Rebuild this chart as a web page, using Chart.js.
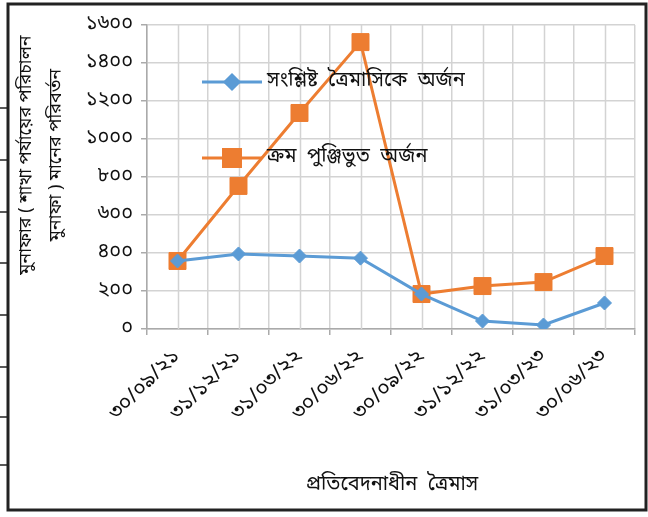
<!DOCTYPE html>
<html>
<head>
<meta charset="utf-8">
<script src="https://cdn.jsdelivr.net/npm/chart.js@4.4.0/dist/chart.umd.min.js"></script>
<style>
  html, body { margin: 0; padding: 0; background: #fff; }
  #wrap { position: relative; width: 648px; height: 517px; }
</style>
</head>
<body>
<div id="wrap"><canvas id="profit-chart" width="648" height="517"></canvas></div>
<script>
// data
var quarters = ['৩০/০৯/২১', '৩১/১২/২১', '৩১/০৩/২২', '৩০/০৬/২২', '৩০/০৯/২২', '৩১/১২/২২', '৩১/০৩/২৩', '৩০/০৬/২৩'];
var quarterly = [358, 395, 384, 373, 184, 42, 21, 137];
var cumulative = [358, 753, 1137, 1510, 184, 226, 247, 384];
var yTickLabels = ['০', '২০০', '৪০০', '৬০০', '৮০০', '১০০০', '১২০০', '১৪০০', '১৬০০'];
var seriesNames = ['সংশ্লিষ্ট  ত্রৈমাসিকে  অর্জন', 'ক্রম  পুঞ্জিভুত  অর্জন'];
var yTitle = ['মুনাফার ( শাখা পর্যায়ের পরিচালন', 'মুনাফা ) মানের পরিবর্তন'];
var xTitle = 'প্রতিবেদনাধীন  ত্রৈমাস';

var BLUE = '#5B9BD5';
var ORANGE = '#ED7D31';
var GRID = '#d3d3d3';
var FONT = "'Noto Sans Bengali', 'Lohit Bengali', 'FreeSerif', 'Noto Sans', sans-serif";

// extra grid lines through the category centres, frame, titles, legend
var decor = {
  id: 'decor',
  beforeDatasetsDraw: function (chart) {
    var ctx = chart.ctx, xs = chart.scales.x, a = chart.chartArea;
    ctx.save();
    ctx.strokeStyle = GRID;
    ctx.lineWidth = 1.5;
    quarters.forEach(function (q, i) {
      var x = Math.round(xs.getPixelForValue(i)) + 0.5;
      ctx.beginPath();
      ctx.moveTo(x, a.top);
      ctx.lineTo(x, a.bottom);
      ctx.stroke();
    });
    ctx.restore();
  },
  afterDraw: function (chart) {
    var ctx = chart.ctx;
    ctx.save();
    // outer frame
    ctx.strokeStyle = '#222';
    ctx.lineWidth = 3;
    ctx.strokeRect(8, 4, 638, 506);
    ctx.lineWidth = 1.5;
    [108, 160, 212, 263, 315, 367, 417, 465].forEach(function (y) {
      ctx.beginPath();
      ctx.moveTo(0, y);
      ctx.lineTo(8, y);
      ctx.stroke();
    });

    // axis titles
    ctx.fillStyle = '#111';
    ctx.font = '18px ' + FONT;
    ctx.textAlign = 'center';
    ctx.textBaseline = 'middle';
    ctx.save();
    ctx.translate(0, 155);
    ctx.rotate(-Math.PI / 2);
    ctx.fillText(yTitle[0], 0, 28);
    ctx.fillText(yTitle[1], 0, 58);
    ctx.restore();
    ctx.font = '20px ' + FONT;
    ctx.fillText(xTitle, 392, 486);

    // legend inside the plot
    var items = [
      { y: 82, color: BLUE, style: 'rectRot', r: 7 },
      { y: 158, color: ORANGE, style: 'rect', r: 12 }
    ];
    items.forEach(function (it, i) {
      ctx.strokeStyle = it.color;
      ctx.lineWidth = 3;
      ctx.beginPath();
      ctx.moveTo(202, it.y);
      ctx.lineTo(262, it.y);
      ctx.stroke();
      ctx.fillStyle = it.color;
      Chart.helpers.drawPoint(ctx, { pointStyle: it.style, radius: it.r, borderWidth: 1, rotation: 0 }, 232, it.y);
      ctx.fill();
      ctx.fillStyle = '#111';
      ctx.textAlign = 'left';
      ctx.font = '20px ' + FONT;
      ctx.fillText(seriesNames[i], 267, it.y);
    });
    ctx.restore();
  }
};

var ctx = document.getElementById('profit-chart').getContext('2d');

var myChart = new Chart(ctx, {
  type: 'line',
  data: {
    labels: quarters,
    datasets: [{
      label: seriesNames[0],
      data: quarterly,
      borderColor: BLUE,
      backgroundColor: BLUE,
      borderWidth: 3,
      pointStyle: 'rectRot',
      pointRadius: 7,
      pointBorderWidth: 1,
      tension: 0
    }, {
      label: seriesNames[1],
      data: cumulative,
      borderColor: ORANGE,
      backgroundColor: ORANGE,
      borderWidth: 3,
      pointStyle: 'rect',
      pointRadius: 12,
      pointBorderWidth: 1,
      tension: 0
    }]
  },
  options: {
    responsive: false,
    animation: false,
    layout: { padding: { left: 0, top: 25, right: 12, bottom: 0 } },
    plugins: {
      legend: { display: false },
      tooltip: { enabled: false }
    },
    scales: {
      x: {
        offset: true,
        grid: { color: GRID, lineWidth: 1.5, offset: true, tickLength: 6, tickColor: '#aaa' },
        border: { color: '#aaa', width: 1.5 },
        ticks: {
          minRotation: 45,
          maxRotation: 45,
          padding: 10,
          color: '#111',
          font: { family: FONT, size: 21 }
        },
        afterFit: function (s) { s.height = 188; }
      },
      y: {
        min: 0,
        max: 1600,
        grid: { color: GRID, lineWidth: 1.5, tickLength: 6, tickColor: '#aaa' },
        border: { color: '#aaa', width: 1.5 },
        ticks: {
          stepSize: 200,
          padding: 8,
          color: '#111',
          font: { family: FONT, size: 20 },
          callback: function (v) { return yTickLabels[v / 200]; }
        },
        afterFit: function (s) { s.width = 147; }
      }
    }
  },
  plugins: [decor]
});
</script>
</body>
</html>
